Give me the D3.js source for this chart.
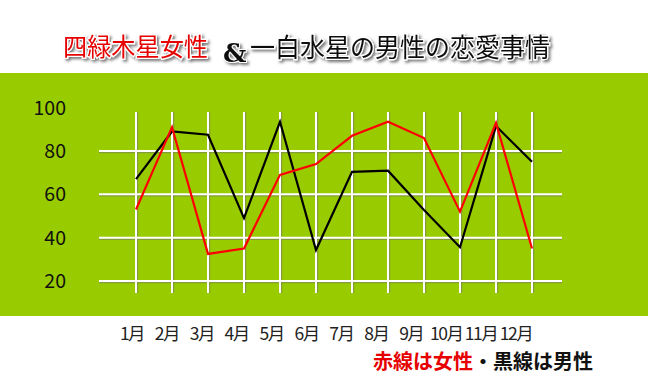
<!DOCTYPE html>
<html><head><meta charset="utf-8">
<script src="https://cdn.jsdelivr.net/npm/d3@7/dist/d3.min.js"></script>
<style>body{margin:0;background:#fff;}svg{display:block;}</style>
</head><body>
<script>
const months = ["1月","2月","3月","4月","5月","6月","7月","8月","9月","10月","11月","12月"];
const female = [53, 91, 32.5, 35, 69, 74, 87, 93.5, 86, 52, 93, 35];
const male = [67, 89, 87.5, 49, 93.5, 34.3, 70.4, 70.9, 52.8, 35.6, 91.5, 75];
const yTicks = [20, 40, 60, 80, 100];
const gridValues = [20, 40, 60, 80];

const W = 648, H = 388;
const svg = d3.select("body").append("svg").attr("width", W).attr("height", H);
const defs = svg.append("defs");
const f = defs.append("filter").attr("id","sh").attr("x","-10%").attr("y","-30%").attr("width","130%").attr("height","170%");
f.append("feDropShadow").attr("dx",2).attr("dy",2).attr("stdDeviation",1.5).attr("flood-color","#000").attr("flood-opacity",0.55);

// green band
svg.append("rect").attr("x",0).attr("y",73).attr("width",W).attr("height",243).attr("fill","#99cc00");

const x = d3.scalePoint().domain(months).range([136, 532]);
const xLab = d3.scalePoint().domain(months).range([132, 516]);
const y = d3.scaleLinear().domain([20, 80]).range([281, 151]);

const grid = svg.append("g");
grid.selectAll("line.hs").data(gridValues).join("line")
  .attr("x1",99).attr("x2",562).attr("y1",d=>y(d)+1.5).attr("y2",d=>y(d)+1.5)
  .attr("stroke","#7a8a50").attr("stroke-width",1.5).attr("opacity",0.7);
grid.selectAll("line.vs").data(months).join("line")
  .attr("x1",d=>x(d)+1.5).attr("x2",d=>x(d)+1.5).attr("y1",112).attr("y2",293)
  .attr("stroke","#7a8a50").attr("stroke-width",1.5).attr("opacity",0.7);
grid.selectAll("line.h").data(gridValues).join("line")
  .attr("x1",99).attr("x2",562).attr("y1",d=>y(d)).attr("y2",d=>y(d))
  .attr("stroke","#fff").attr("stroke-width",2);
grid.selectAll("line.v").data(months).join("line")
  .attr("x1",d=>x(d)).attr("x2",d=>x(d)).attr("y1",112).attr("y2",293)
  .attr("stroke","#fff").attr("stroke-width",2);

// y labels
svg.append("g").selectAll("text").data(yTicks).join("text")
  .attr("x",66).attr("y",d=>y(d)+7).attr("text-anchor","end")
  .attr("font-family","'Noto Sans CJK JP', 'Noto Sans', sans-serif").attr("font-size",19.5).attr("fill","#111")
  .text(d=>d);

const line = d3.line().x((d,i)=>x(months[i])).y(d=>y(d));
svg.append("path").datum(male).attr("d",line).attr("fill","none").attr("stroke","#000").attr("stroke-width",2.2).attr("stroke-linejoin","miter");
svg.append("path").datum(female).attr("d",line).attr("fill","none").attr("stroke","#ff0000").attr("stroke-width",2.2).attr("stroke-linejoin","miter");

// x labels
svg.append("g").selectAll("text").data(months).join("text")
  .attr("x",d=>xLab(d)).attr("y",340).attr("text-anchor","middle")
  .attr("font-family","'Noto Sans CJK JP', sans-serif").attr("font-size",17.5).attr("letter-spacing",-1.5).attr("fill","#222")
  .text(d=>d);

// legend
const lg = svg.append("text").attr("x",593).attr("y",369).attr("text-anchor","end")
  .attr("font-family","'Noto Sans CJK JP', sans-serif").attr("font-size",20).attr("font-weight","bold");
lg.append("tspan").attr("fill","#e60000").text("赤線は女性");
lg.append("tspan").attr("fill","#111").text("・黒線は男性");

// title
const tg = svg.append("g").attr("filter","url(#sh)");
tg.append("text").attr("x",63).attr("y",56)
  .attr("font-family","'Noto Sans CJK JP', sans-serif").attr("font-size",25).attr("font-weight",400)
  .attr("fill","#e60000").attr("stroke","#fff").attr("stroke-width",2.5).attr("paint-order","stroke")
  .attr("textLength",145).attr("lengthAdjust","spacingAndGlyphs")
  .text("四緑木星女性");
tg.append("text").attr("x",223).attr("y",62)
  .attr("font-family","'DejaVu Serif', serif").attr("font-size",26).attr("font-weight","bold")
  .attr("fill","#111").attr("stroke","#fff").attr("stroke-width",2).attr("paint-order","stroke")
  .text("&");
tg.append("text").attr("x",250).attr("y",57)
  .attr("font-family","'Noto Sans CJK JP', sans-serif").attr("font-size",26).attr("font-weight",400)
  .attr("fill","#111").attr("stroke","#fff").attr("stroke-width",2.5).attr("paint-order","stroke")
  .attr("textLength",300).attr("lengthAdjust","spacingAndGlyphs")
  .text("一白水星の男性の恋愛事情");
</script>
</body></html>
